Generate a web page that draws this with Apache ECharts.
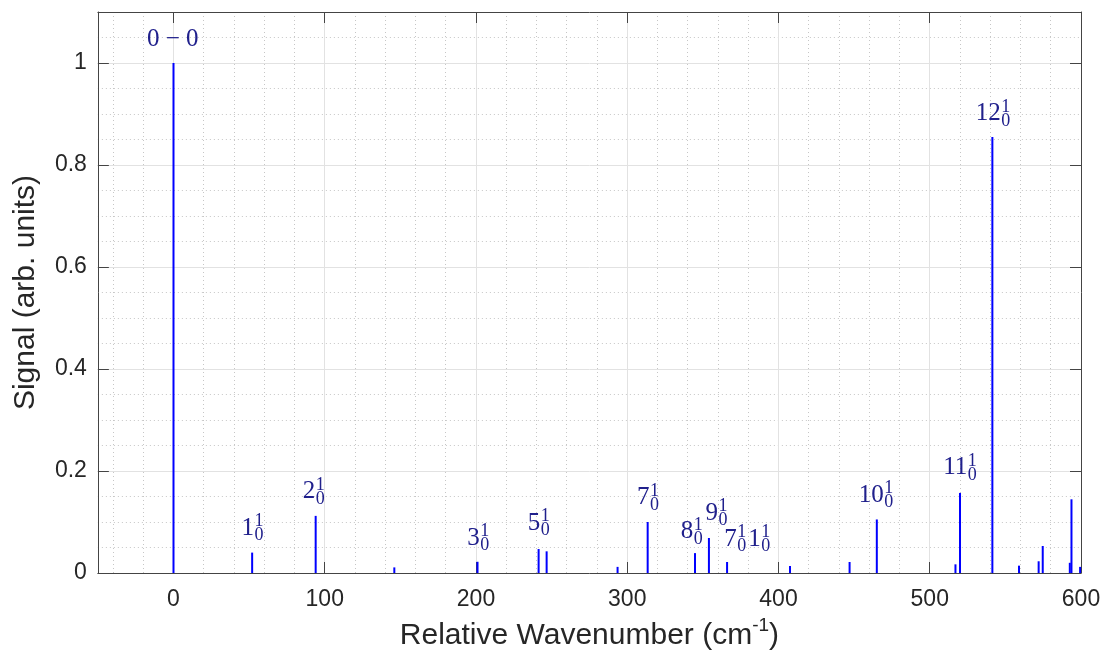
<!DOCTYPE html>
<html>
<head>
<meta charset="utf-8">
<script src="https://cdn.jsdelivr.net/npm/echarts@6/dist/echarts.min.js"></script>
<style>
  html, body { margin: 0; padding: 0; background: #ffffff; }
  #chart { width: 1104px; height: 663px; }
</style>
</head>
<body>
<div id="chart"></div>
<script>
// Stick spectrum: band positions (cm^-1, relative to the origin) and intensities
const peakPositions = [0, 52, 94, 146, 201, 241.4, 246.7, 293.6, 313.5, 344.8, 354, 366,
                       407.6, 447, 465, 517, 520, 541.4, 559, 572, 574.7, 592.6, 593.7, 599.4];
const peakHeights   = [1.0, 0.040, 0.112, 0.011, 0.022, 0.047, 0.0425, 0.012, 0.100, 0.039, 0.0686, 0.0216,
                       0.0137, 0.0216, 0.105, 0.017, 0.157, 0.855, 0.0144, 0.023, 0.053, 0.020, 0.1445, 0.012];

// Band assignments: "n_lower^upper", several transitions separated by spaces
const labelTexts = ['0 \u2212 0', '1_0^1', '2_0^1', '3_0^1', '5_0^1', '7_0^1', '8_0^1', '9_0^1',
                    '7_0^1 1_0^1', '10_0^1', '11_0^1', '12_0^1'];
// Anchor of each assignment (centre of the main digits) in data units
const labelX = [-0.5, 52, 92.5, 201.4, 241.4, 313.5, 342.4, 358.8, 379, 464.3, 519.8, 541.7];
const labelY = [1.047, 0.088, 0.159, 0.0686, 0.098, 0.148, 0.0814, 0.1176, 0.0667, 0.153, 0.2065, 0.901];

const xTitle = 'Relative Wavenumber (cm';
const xTitleSup = '-1';
const yTitle = 'Signal (arb. units)';

const stemColor = '#0000ff';
const labelColor = '#20208c';
const axisColor = '#444444';
const textColor = '#262626';
const sansFont = '"Liberation Sans", Arial, sans-serif';
const serifFont = '"Liberation Serif", "Times New Roman", serif';
const baseSize = 25;
const scriptSize = 18;
const supRaise = 6.5;
const subDrop = 7.5;
const partGap = 2;

const measureCtx = document.createElement('canvas').getContext('2d');
function textWidth(str, size) {
  measureCtx.font = size + 'px ' + serifFont;
  return measureCtx.measureText(str).width;
}

function parseLabel(text) {
  const parts = text.split(' ').map(function (tok) {
    const m = tok.match(/^(\d+)_(\d+)\^(\d+)$/);
    return m ? { base: m[1], sub: m[2], sup: m[3] } : null;
  });
  return parts.every(function (p) { return p; }) ? parts : null;
}

function serifText(str, size, x, y, align) {
  return {
    type: 'text', x: x, y: y,
    style: { text: str, fill: labelColor, fontSize: size, fontFamily: serifFont,
             align: align, verticalAlign: 'middle' }
  };
}

function renderStem(params, api) {
  const p0 = api.coord([api.value(0), 0]);
  const p1 = api.coord([api.value(0), api.value(1)]);
  return {
    type: 'rect',
    shape: { x: p0[0] - 1, y: p1[1], width: 2, height: p0[1] - p1[1] },
    style: { fill: stemColor }
  };
}

function renderLabel(params, api) {
  const idx = api.value(2);
  const c = api.coord([api.value(0), api.value(1)]);
  const text = labelTexts[idx];
  const parts = parseLabel(text);
  if (!parts) {
    return { type: 'group', children: [serifText(text, baseSize, c[0], c[1], 'center')] };
  }
  const widths = parts.map(function (p) {
    return { bw: textWidth(p.base, baseSize),
             sw: Math.max(textWidth(p.sup, scriptSize), textWidth(p.sub, scriptSize)) };
  });
  const total = widths.reduce(function (s, w) { return s + w.bw + w.sw; }, 0) + partGap * (parts.length - 1);
  let x = c[0] - total / 2;
  const children = [];
  parts.forEach(function (p, i) {
    children.push(serifText(p.base, baseSize, x, c[1], 'left'));
    x += widths[i].bw + 0.5;
    children.push(serifText(p.sup, scriptSize, x, c[1] - supRaise, 'left'));
    children.push(serifText(p.sub, scriptSize, x, c[1] + subDrop, 'left'));
    x += widths[i].sw + partGap;
  });
  return { type: 'group', children: children };
}

const stemData = peakPositions.map(function (x, i) { return [x, peakHeights[i]]; });
const labelData = labelTexts.map(function (t, i) { return [labelX[i], labelY[i], i]; });

const chart = echarts.init(document.getElementById('chart'), null, { renderer: 'canvas' });

const xCommon = { type: 'value', min: -50, max: 600 };
const yCommon = { type: 'value', min: 0, max: 1.1, interval: 0.2 };
const tickStyle = { show: true, inside: true, length: 11, lineStyle: { color: axisColor, width: 1 } };
const lineStyle = { show: true, onZero: false, lineStyle: { color: axisColor, width: 1 } };
const majorGrid = { show: true, lineStyle: { color: '#e2e2e2', width: 1 } };
const minorGrid = { show: true, lineStyle: { color: '#c6c6c6', width: 1, type: [1, 3] } };

chart.setOption({
  animation: false,
  backgroundColor: '#ffffff',
  grid: { left: 96, right: 23, top: 12, bottom: 90, containLabel: false },
  xAxis: [
    Object.assign({}, xCommon, {
      position: 'bottom',
      axisLine: lineStyle,
      axisTick: tickStyle,
      axisLabel: { color: textColor, fontSize: 23, fontFamily: sansFont, margin: 15, showMinLabel: false },
      splitLine: majorGrid,
      minorTick: { show: false, splitNumber: 5 },
      minorSplitLine: minorGrid,
      name: '{a|' + xTitle + '}{s|' + xTitleSup + '}{a|)}',
      nameLocation: 'middle',
      nameGap: 40,
      nameTextStyle: {
        rich: {
          a: { fontSize: 30, fontFamily: sansFont, color: textColor, lineHeight: 40 },
          s: { fontSize: 19, fontFamily: sansFont, color: textColor, lineHeight: 14, verticalAlign: 'top' }
        }
      }
    }),
    Object.assign({}, xCommon, {
      position: 'top',
      axisLine: lineStyle,
      axisTick: tickStyle,
      axisLabel: { show: false },
      splitLine: { show: false }
    })
  ],
  yAxis: [
    Object.assign({}, yCommon, {
      position: 'left',
      axisLine: lineStyle,
      axisTick: tickStyle,
      axisLabel: { color: textColor, fontSize: 23, fontFamily: sansFont, margin: 11, showMaxLabel: false },
      splitLine: majorGrid,
      minorTick: { show: false, splitNumber: 4 },
      minorSplitLine: minorGrid,
      name: yTitle,
      nameLocation: 'middle',
      nameGap: 46,
      nameTextStyle: { fontSize: 30, fontFamily: sansFont, color: textColor, lineHeight: 36 }
    }),
    Object.assign({}, yCommon, {
      position: 'right',
      axisLine: lineStyle,
      axisTick: tickStyle,
      axisLabel: { show: false },
      splitLine: { show: false }
    })
  ],
  series: [
    {
      type: 'custom',
      name: 'stems',
      xAxisIndex: 0, yAxisIndex: 0,
      renderItem: renderStem,
      data: stemData,
      clip: true,
      z: 3
    },
    {
      type: 'custom',
      name: 'assignments',
      xAxisIndex: 0, yAxisIndex: 0,
      renderItem: renderLabel,
      data: labelData,
      clip: false,
      z: 4
    }
  ]
});
</script>
</body>
</html>
